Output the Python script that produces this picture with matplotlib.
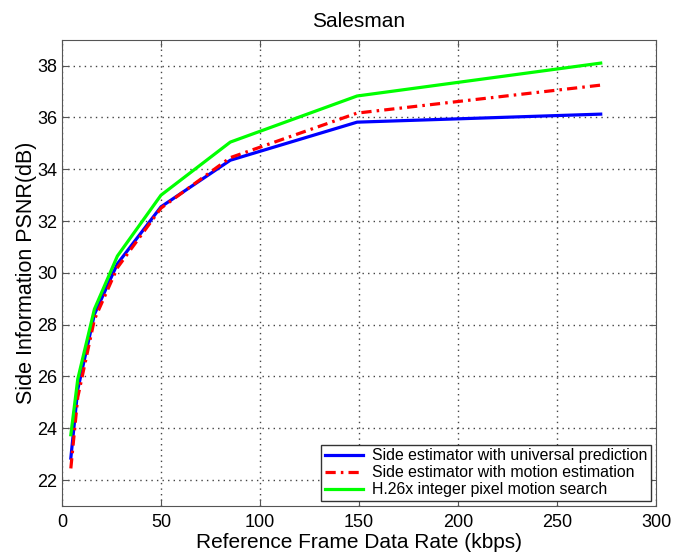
import numpy as np
import matplotlib.pyplot as plt

plt.rcParams['font.family'] = ['Liberation Sans', 'DejaVu Sans']

# reference frame rate (kbps) and side information PSNR (dB)
rate = [4.5, 8, 16.4, 28, 50, 85, 149, 272]
psnr_universal = [22.85, 25.5, 28.4, 30.35, 32.55, 34.35, 35.82, 36.13]
psnr_motion = [22.45, 25.2, 28.2, 30.2, 32.5, 34.45, 36.17, 37.25]
psnr_h26x = [23.75, 25.9, 28.6, 30.65, 33.0, 35.05, 36.83, 38.1]

fig = plt.figure(figsize=(6.73, 5.55), dpi=100)
ax = fig.add_axes([0.092, 0.0883, 0.883, 0.84])

ax.plot(rate, psnr_universal, color='#0000ff', lw=2.3, label='Side estimator with universal prediction')
ax.plot(rate, psnr_motion, color='#ff0000', lw=2.3, ls=(0, (3.2, 1.6, 0.8, 1.6)),
        label='Side estimator with motion estimation')
ax.plot(rate, psnr_h26x, color='#00ff00', lw=2.3, label='H.26x integer pixel motion search')

ax.set_xlim(0, 300)
ax.set_ylim(21, 39)
ax.set_xticks(np.arange(0, 301, 50))
ax.set_yticks(np.arange(22, 39, 2))
ax.grid(True, ls=(0, (1, 3)), color='#444444', lw=1.0)
ax.tick_params(direction='in', top=True, right=True, labelsize=13, length=5,
               color='#555555')
ax.tick_params(axis='x', pad=6)
ax.tick_params(axis='y', pad=3.5)
for s in ax.spines.values():
    s.set_color('#555555')

ax.set_title('Salesman', fontsize=15, pad=9)
ax.set_xlabel('Reference Frame Data Rate (kbps)', fontsize=15, labelpad=1)
ax.set_ylabel('Side Information PSNR(dB)', fontsize=15.5, labelpad=0)

leg = ax.legend(loc='lower right', fontsize=11.4, fancybox=False, framealpha=1,
                edgecolor='#333333', handlelength=2.4, handletextpad=0.6,
                borderpad=0.25, labelspacing=0.12, borderaxespad=0.3)
leg.get_frame().set_linewidth(1.0)

fig.savefig('out.png', dpi=100)
